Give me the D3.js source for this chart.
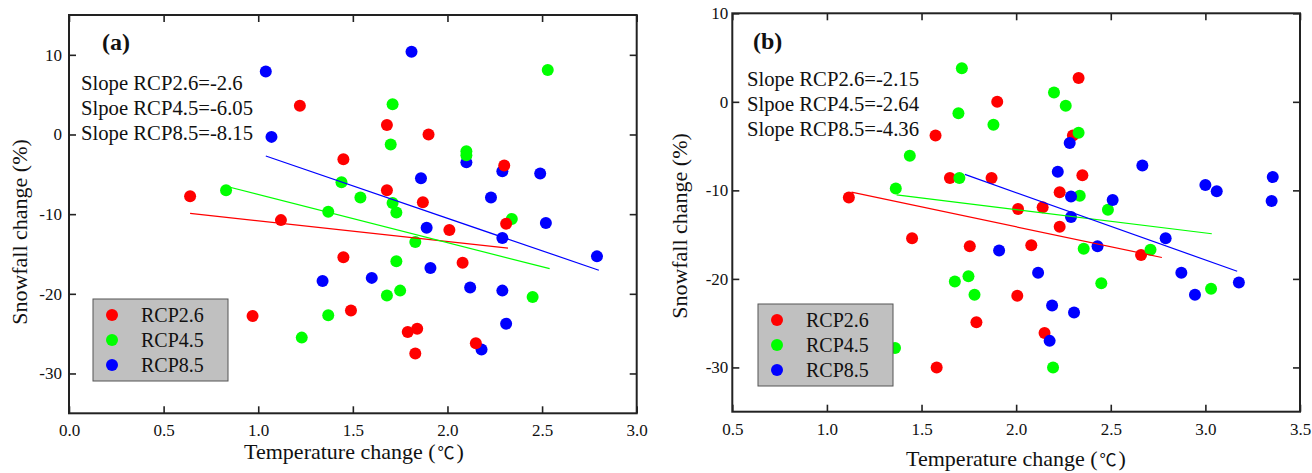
<!DOCTYPE html>
<html>
<head>
<meta charset="utf-8">
<script src="https://cdn.jsdelivr.net/npm/d3@7"></script>
<style>
  body { margin: 0; background: #fff; }
</style>
</head>
<body>
<div id="viz"></div>
<script>
const rcpNames = ["RCP2.6", "RCP4.5", "RCP8.5"];
const rcpColors = ["#ff0000", "#00ff00", "#0000ff"];

// panel (a): [temperature change, snowfall change]
const aRcp26 = [[0.64,-7.75],[1.12,-10.75],[1.22,3.6],[1.45,-3.1],[1.68,1.2],[1.68,-7.0],[1.45,-15.4],[1.49,-22.1],[0.97,-22.8],[1.90,0.0],[1.87,-8.5],[2.01,-12.0],[2.08,-16.1],[2.30,-3.9],[2.31,-11.2],[1.79,-24.8],[1.84,-24.4],[1.83,-27.5],[2.15,-26.2]];
const aRcp45 = [[0.83,-7.0],[1.37,-9.7],[1.44,-6.0],[1.54,-7.9],[1.71,3.8],[1.70,-1.25],[1.71,-8.6],[1.73,-9.8],[1.73,-15.9],[1.68,-20.2],[1.75,-19.6],[1.37,-22.7],[1.23,-25.5],[1.83,-13.5],[2.10,-2.1],[2.10,-2.6],[2.34,-10.6],[2.45,-20.4],[2.53,8.1]];
const aRcp85 = [[1.04,7.9],[1.07,-0.3],[1.34,-18.4],[1.60,-18.0],[1.81,10.4],[1.86,-5.5],[1.89,-11.7],[1.91,-16.75],[2.10,-3.5],[2.23,-7.9],[2.29,-4.6],[2.29,-13.0],[2.12,-19.2],[2.29,-19.6],[2.31,-23.75],[2.18,-27.0],[2.49,-4.9],[2.52,-11.1],[2.79,-15.3]];
const aFitX0 = [0.64, 0.83, 1.04];
const aFitX1 = [2.32, 2.54, 2.80];
const aSlope = [-2.6, -6.05, -8.15];
const aIntercept = [-8.24, -1.48, 5.78];
const aSlopeText = ["Slope RCP2.6=-2.6", "Slpoe RCP4.5=-6.05", "Slope RCP8.5=-8.15"];
const aXTicks = [0, 0.5, 1, 1.5, 2, 2.5, 3];
const aYTicks = [-30, -20, -10, 0, 10];

// panel (b)
const bRcp26 = [[1.116,-10.8],[1.574,-3.8],[1.65,-8.6],[1.90,0.0],[1.87,-8.6],[2.01,-12.1],[2.14,-11.9],[2.23,-10.2],[2.23,-14.1],[1.45,-15.4],[1.755,-16.3],[2.08,-16.2],[2.006,-21.9],[1.79,-24.9],[2.15,-26.1],[1.58,-30.0],[2.33,2.7],[2.30,-3.8],[2.35,-8.3],[2.66,-17.3]];
const bRcp45 = [[1.713,3.8],[1.695,-1.3],[1.88,-2.6],[1.438,-6.1],[1.70,-8.6],[1.364,-9.8],[2.20,1.05],[1.676,-20.3],[1.748,-19.7],[1.78,-21.8],[2.195,-30.0],[1.36,-27.8],[2.262,-0.45],[2.33,-3.5],[2.336,-10.6],[2.485,-12.2],[2.357,-16.6],[2.45,-20.5],[2.71,-16.7],[3.03,-21.1]];
const bRcp85 = [[2.22,-7.9],[1.91,-16.8],[2.116,-19.3],[2.19,-23.0],[2.177,-27.0],[2.283,-4.65],[2.29,-10.7],[2.29,-13.0],[2.667,-7.2],[2.51,-11.1],[2.43,-16.3],[2.79,-15.4],[3.0,-9.4],[3.06,-10.1],[3.356,-8.5],[3.35,-11.2],[2.873,-19.3],[2.945,-21.8],[3.177,-20.4],[2.306,-23.8]];
const bFitX0 = [1.13, 1.368, 1.729];
const bFitX1 = [2.77, 3.034, 3.168];
const bSlope = [-4.5, -2.64, -7.6];
const bIntercept = [-5.115, -6.89, 4.94];
const bSlopeText = ["Slope RCP2.6=-2.15", "Slpoe RCP4.5=-2.64", "Slope RCP8.5=-4.36"];
const bXTicks = [0.5, 1, 1.5, 2, 2.5, 3, 3.5];
const bYTicks = [-30, -20, -10, 0, 10];

const fontStack = "'Liberation Serif', Tinos, 'Times New Roman', Times, 'DejaVu Serif', serif";
const w = 1312, h = 473;
const svg = d3.select("#viz").append("svg")
  .attr("width", w)
  .attr("height", h)
  .attr("font-family", fontStack);

function drawPanel(p) {
  const g = svg.append("g");
  const xScale = d3.scaleLinear().domain(p.xDomain).range([p.left, p.right]);
  const yScale = d3.scaleLinear().domain(p.yDomain).range([p.bottom, p.top]);
  const tick = 7;

  // axes with inward ticks, mirrored on top/right
  const xb = g.append("g").attr("transform", `translate(0,${p.bottom})`)
    .call(d3.axisBottom(xScale).tickValues(p.xTicks).tickFormat(d => d.toFixed(1))
      .tickSize(-tick).tickPadding(p.xPad));
  const xt = g.append("g").attr("transform", `translate(0,${p.top})`)
    .call(d3.axisTop(xScale).tickValues(p.xTicks).tickFormat("").tickSize(-tick));
  const yl = g.append("g").attr("transform", `translate(${p.left},0)`)
    .call(d3.axisLeft(yScale).tickValues(p.yTicks).tickFormat(d => String(d))
      .tickSize(-tick).tickPadding(p.yPad));
  const yr = g.append("g").attr("transform", `translate(${p.right},0)`)
    .call(d3.axisRight(yScale).tickValues(p.yTicks).tickFormat("").tickSize(-tick));
  [xb, xt, yl, yr].forEach(a => {
    a.attr("font-family", fontStack).attr("font-size", 17);
    a.select(".domain").remove();
    a.selectAll("line").attr("stroke", "#222").attr("stroke-width", 1.6);
    a.selectAll("text").attr("fill", "#111");
  });

  g.append("rect")
    .attr("x", p.left).attr("y", p.top)
    .attr("width", p.right - p.left).attr("height", p.bottom - p.top)
    .attr("fill", "none").attr("stroke", "#222").attr("stroke-width", 2);

  // points
  const pointGroup = g.append("g");
  p.order.forEach(i => {
    pointGroup.append("g").selectAll("circle")
      .data(p.series[i])
      .enter()
      .append("circle")
      .attr("cx", d => xScale(d[0]))
      .attr("cy", d => yScale(d[1]))
      .attr("r", 6)
      .style("fill", rcpColors[i]);
  });

  // fitted lines
  const fitGroup = g.append("g");
  fitGroup.selectAll("line")
    .data(d3.range(3))
    .enter()
    .append("line")
    .attr("x1", i => xScale(p.fitX0[i]))
    .attr("y1", i => yScale(p.intercept[i] + p.slope[i] * p.fitX0[i]))
    .attr("x2", i => xScale(p.fitX1[i]))
    .attr("y2", i => yScale(p.intercept[i] + p.slope[i] * p.fitX1[i]))
    .attr("stroke", i => rcpColors[i])
    .attr("stroke-width", 1.2);

  // panel tag and slope text
  g.append("text")
    .attr("x", p.tagX).attr("y", p.tagY)
    .attr("font-size", 24).attr("font-weight", "bold")
    .attr("fill", "#111")
    .text(p.tag);
  g.selectAll(".slope")
    .data(p.slopeText)
    .enter()
    .append("text")
    .attr("x", p.textX)
    .attr("y", (d, i) => p.textY + i * 24.8)
    .attr("font-size", 20.7)
    .attr("fill", "#111")
    .text(d => d);

  // legend
  const lg = g.append("g");
  lg.append("rect")
    .attr("x", p.legX).attr("y", p.legY)
    .attr("width", 135).attr("height", 82)
    .attr("fill", "#c0c0c0").attr("stroke", "#555").attr("stroke-width", 1);
  rcpNames.forEach((name, i) => {
    lg.append("circle")
      .attr("cx", p.legX + 19).attr("cy", p.legY + 16 + i * 25)
      .attr("r", 6).style("fill", rcpColors[i]);
    lg.append("text")
      .attr("x", p.legX + 48).attr("y", p.legY + 23 + i * 25)
      .attr("font-size", 20)
      .attr("fill", "#111")
      .text(name);
  });

  // axis titles
  const xt2 = g.append("text")
    .attr("x", p.xTitleX).attr("y", p.xTitleY)
    .attr("text-anchor", "middle").attr("font-size", 22)
    .attr("fill", "#111");
  xt2.append("tspan").text("Temperature change (");
  xt2.append("tspan").attr("dx", 2).attr("font-family", "'Noto Sans CJK SC', " + fontStack)
    .attr("font-size", 17).text("\u2103");
  xt2.append("tspan").attr("dx", 2).text(")");
  g.append("text")
    .attr("transform", `translate(${p.yTitleX},${p.yTitleY}) rotate(-90)`)
    .attr("text-anchor", "middle").attr("font-size", 22)
    .attr("fill", "#111")
    .text("Snowfall change (%)");
}

drawPanel({
  left: 69, right: 636.7, top: 15, bottom: 413.3,
  xDomain: [0, 3], yDomain: [-35, 15],
  xTicks: aXTicks, yTicks: aYTicks, xPad: 11, yPad: 7,
  series: [aRcp26, aRcp45, aRcp85], order: [2, 1, 0],
  fitX0: aFitX0, fitX1: aFitX1, slope: aSlope, intercept: aIntercept,
  tag: "(a)", tagX: 102, tagY: 50,
  slopeText: aSlopeText, textX: 81, textY: 90,
  legX: 93, legY: 299,
  xTitleX: 354, xTitleY: 459, yTitleX: 27, yTitleY: 232
});

drawPanel({
  left: 732.3, right: 1300, top: 13.3, bottom: 411.7,
  xDomain: [0.5, 3.5], yDomain: [-35, 10],
  xTicks: bXTicks, yTicks: bYTicks, xPad: 11, yPad: 4,
  series: [bRcp26, bRcp45, bRcp85], order: [0, 1, 2],
  fitX0: bFitX0, fitX1: bFitX1, slope: bSlope, intercept: bIntercept,
  tag: "(b)", tagX: 753, tagY: 49,
  slopeText: bSlopeText, textX: 747, textY: 86,
  legX: 758, legY: 304,
  xTitleX: 1016, xTitleY: 466, yTitleX: 687, yTitleY: 226
});
</script>
</body>
</html>
